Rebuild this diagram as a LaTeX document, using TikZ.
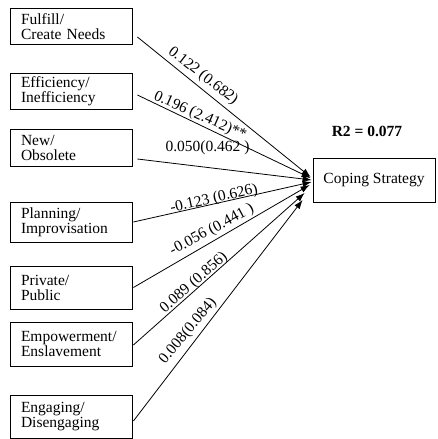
\documentclass[tikz,border=0pt]{standalone}
\usepackage{fontspec}
\setmainfont{Liberation Serif}
\usetikzlibrary{arrows.meta}
\begin{document}
\begin{tikzpicture}[x=1pt,y=1pt,
  txt/.style={font=\fontsize{15.5}{15}\selectfont},
  box/.style={txt,draw,line width=0.8pt,rectangle,minimum width=122pt,text width=100pt,
    inner xsep=11pt,inner ysep=0pt,align=left,anchor=center},
  arr/.style={line width=0.8pt,-{Latex[length=9pt,width=6.5pt]}},
  lab/.style={txt,inner sep=0pt,anchor=center}]
\useasboundingbox (0,0) rectangle (438,-439);
\node[box,minimum height=36.5pt] (f) at (71,-26.5) {Fulfill/\\Create Needs};
\node[box,minimum height=36pt] (e) at (71,-91) {Efficiency/\\Inefficiency};
\node[box,minimum height=36.5pt] (n) at (71,-148) {New/\\Obsolete};
\node[box,minimum height=40pt] (p) at (71,-222) {Planning/\\Improvisation};
\node[box,minimum height=43pt] (pr) at (71,-287.5) {Private/\\Public};
\node[box,minimum height=44pt] (em) at (71,-344) {Empowerment/\\Enslavement};
\node[box,minimum height=42.5pt] (en) at (71,-417) {Engaging/\\Disengaging};
\node[txt,draw,line width=0.8pt,minimum width=122pt,minimum height=44pt,inner xsep=10pt,inner ysep=0pt] (c) at (374,-180.5) {Coping Strategy};
\node[txt,font=\fontsize{15.5}{15}\selectfont\bfseries,inner sep=0pt] (r2) at (367,-131) {R2 = 0.077};
\draw[arr] ([shift={(5,-10.5)}]f.east) -- ([shift={(-2,3.5)}]c.west);
\draw[arr] ([shift={(5,-4)}]e.east) -- ([shift={(-2,2.5)}]c.west);
\draw[arr] ([shift={(5,-11)}]n.east) -- ([shift={(-1,0.5)}]c.west);
\draw[arr] ([shift={(1,0)}]p.east) -- ([shift={(-1,-1.5)}]c.west);
\draw[arr] ([shift={(1,0)}]pr.east) -- ([shift={(-3,-4.5)}]c.west);
\draw[arr] ([shift={(1,-1)}]em.east) -- ([shift={(-8,-12.5)}]c.west);
\draw[arr] ([shift={(1,-4)}]en.east) -- ([shift={(-10,-19.5)}]c.west);
\node[lab,rotate=-38] (l1) at (203,-76) {0.122 (0.682)};
\node[lab,rotate=-24] (l2) at (200,-116) {0.196 (2.412)**};
\node[lab] (l3) at (207.5,-148) {0.050(0.462 )};
\node[lab,rotate=12.6] (l4) at (214,-199) {-0.123 (0.626)};
\node[lab,rotate=28] (l5) at (212,-230) {-0.056 (0.441 )};
\node[lab,rotate=41] (l6) at (194,-283) {0.089 (0.856)};
\node[lab,rotate=50] (l7) at (188,-331) {0.008(0.084)};
\end{tikzpicture}
\end{document}
